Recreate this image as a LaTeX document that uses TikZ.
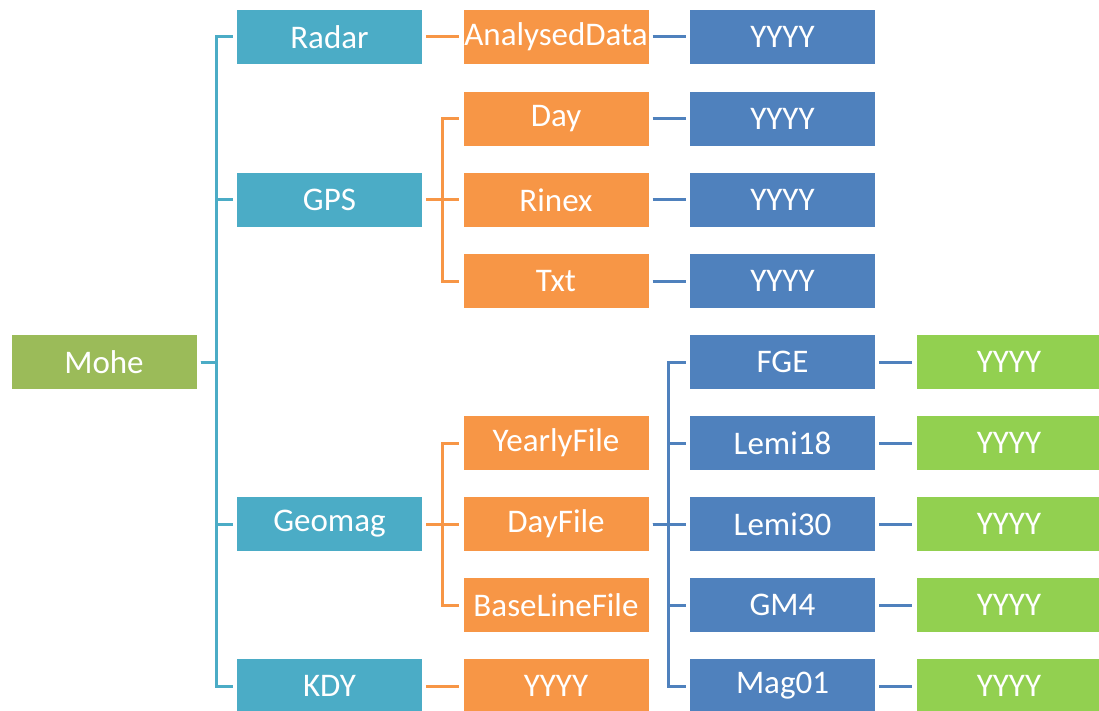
\documentclass[tikz,border=0pt]{standalone}
\usepackage{fontspec}
\setmainfont{Carlito}
\definecolor{cOlive}{HTML}{9BBB59}
\definecolor{cTeal}{HTML}{4BACC6}
\definecolor{cOrange}{HTML}{F79646}
\definecolor{cBlue}{HTML}{4F81BD}
\definecolor{cLime}{HTML}{92D050}
\tikzset{
  box/.style={minimum width=185pt, minimum height=54pt, inner sep=0pt,
              text=white, font=\fontsize{33}{38}\selectfont},
  rootbox/.style={box, fill=cOlive},
  l1box/.style={box, fill=cTeal},
  l2box/.style={box, fill=cOrange},
  l3box/.style={box, fill=cBlue},
  l4box/.style={box, fill=cLime},
  link/.style={line width=3pt},
}
\begin{document}
\begin{tikzpicture}[x=1pt,y=-1pt]
\useasboundingbox (0,0) rectangle (1099,711);
% column centres 104, 329.5, 556, 782.5, 1009; row pitch 81.1
\node[rootbox] (mohe) at (104,362) {Mohe};
\node[l1box] (radar)  at (329.5,37)  {Radar};
\node[l1box] (gps)    at (329.5,200) {GPS};
\node[l1box] (geomag) at (329.5,524) {Geomag};
\node[l1box] (kdy)    at (329.5,686) {KDY};

\node[l2box] (analysed) at (556,37)  {AnalysedData};
\node[l2box] (day)      at (556,119) {Day};
\node[l2box] (rinex)    at (556,200) {Rinex};
\node[l2box] (txt)      at (556,281) {Txt};
\node[l2box] (yearly)   at (556,443) {YearlyFile};
\node[l2box] (dayfile)  at (556,524) {DayFile};
\node[l2box] (baseline) at (556,605) {BaseLineFile};
\node[l2box] (kdyy)     at (556,686) {YYYY};

\node[l3box] (ya) at (782.5,37)  {YYYY};
\node[l3box] (yd) at (782.5,119) {YYYY};
\node[l3box] (yr) at (782.5,200) {YYYY};
\node[l3box] (yt) at (782.5,281) {YYYY};
\node[l3box] (fge)    at (782.5,362) {FGE};
\node[l3box] (lemi18) at (782.5,443) {Lemi18};
\node[l3box] (lemi30) at (782.5,524) {Lemi30};
\node[l3box] (gm4)    at (782.5,605) {GM4};
\node[l3box] (mag01)  at (782.5,686) {Mag01};

\node[l4box] (yfge) at (1009,362) {YYYY};
\node[l4box] (yl18) at (1009,443) {YYYY};
\node[l4box] (yl30) at (1009,524) {YYYY};
\node[l4box] (ygm4) at (1009,605) {YYYY};
\node[l4box] (ymag) at (1009,686) {YYYY};

% Mohe fan-out
\foreach \c in {radar,gps,geomag,kdy}
  \draw[link, cTeal] ([xshift=4pt]mohe.east) -- ++(16,0) |- ([xshift=-4pt]\c.west);
% GPS fan-out
\foreach \c in {day,rinex,txt}
  \draw[link, cOrange] ([xshift=4pt]gps.east) -- ++(16,0) |- ([xshift=-4pt]\c.west);
% Geomag fan-out
\foreach \c in {yearly,dayfile,baseline}
  \draw[link, cOrange] ([xshift=4pt]geomag.east) -- ++(16,0) |- ([xshift=-4pt]\c.west);
% DayFile fan-out
\foreach \c in {fge,lemi18,lemi30,gm4,mag01}
  \draw[link, cBlue] ([xshift=4pt]dayfile.east) -- ++(16,0) |- ([xshift=-4pt]\c.west);
% single links
\draw[link, cOrange] ([xshift=4pt]radar.east) -- ([xshift=-4pt]analysed.west);
\draw[link, cOrange] ([xshift=4pt]kdy.east) -- ([xshift=-4pt]kdyy.west);
\draw[link, cBlue] ([xshift=4pt]analysed.east) -- ([xshift=-4pt]ya.west);
\draw[link, cBlue] ([xshift=4pt]day.east) -- ([xshift=-4pt]yd.west);
\draw[link, cBlue] ([xshift=4pt]rinex.east) -- ([xshift=-4pt]yr.west);
\draw[link, cBlue] ([xshift=4pt]txt.east) -- ([xshift=-4pt]yt.west);
\draw[link, cBlue] ([xshift=4pt]fge.east) -- ([xshift=-4pt]yfge.west);
\draw[link, cBlue] ([xshift=4pt]lemi18.east) -- ([xshift=-4pt]yl18.west);
\draw[link, cBlue] ([xshift=4pt]lemi30.east) -- ([xshift=-4pt]yl30.west);
\draw[link, cBlue] ([xshift=4pt]gm4.east) -- ([xshift=-4pt]ygm4.west);
\draw[link, cBlue] ([xshift=4pt]mag01.east) -- ([xshift=-4pt]ymag.west);
\end{tikzpicture}
\end{document}
